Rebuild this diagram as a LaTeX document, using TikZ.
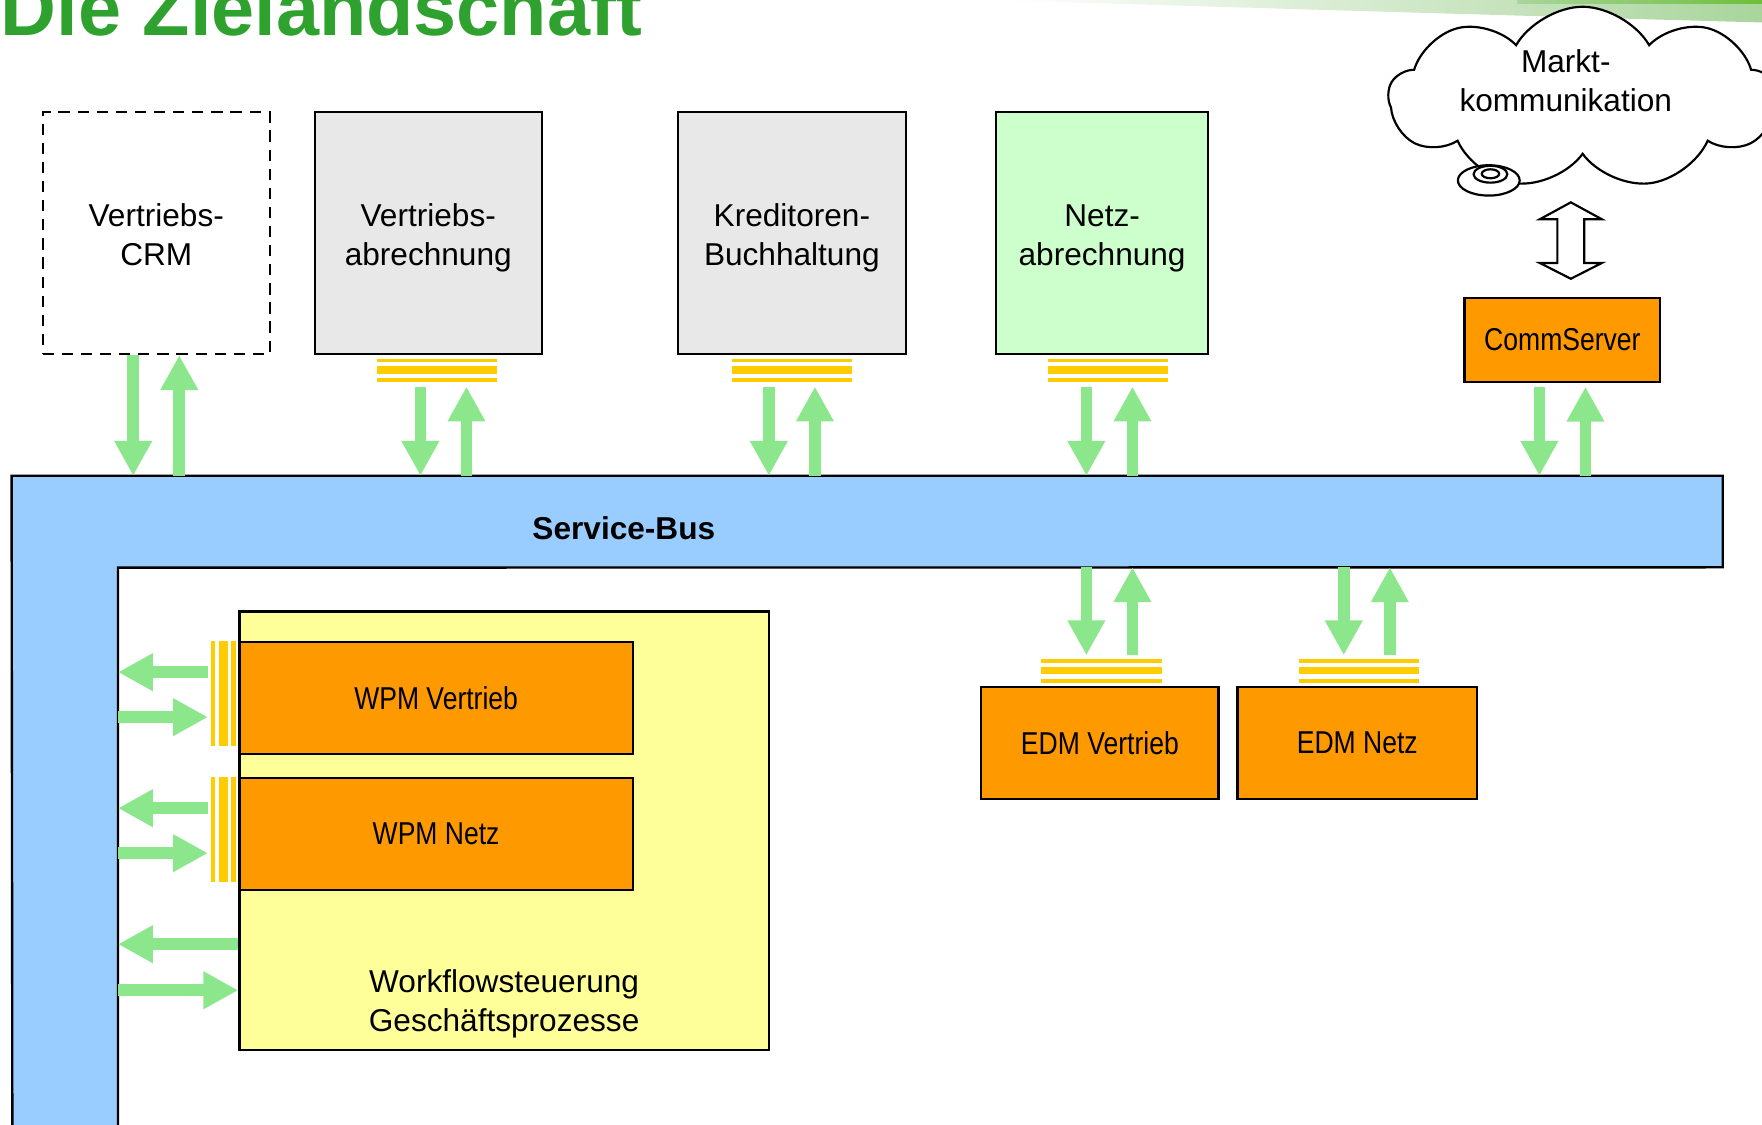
\documentclass[tikz,border=0pt]{standalone}
\usepackage{fontspec}
\setmainfont{Liberation Sans}
\newfontfamily\narrowsf[FakeStretch=0.84]{Liberation Sans}
\usepackage{tikz}
\usetikzlibrary{arrows.meta,calc,shapes.symbols,shapes.geometric}

\definecolor{boxgray}{HTML}{E8E8E8}
\definecolor{netzgreen}{HTML}{CCFFCC}
\definecolor{commorange}{HTML}{FF9900}
\definecolor{busblue}{HTML}{99CCFF}
\definecolor{wfyellow}{HTML}{FFFF99}
\definecolor{stripeyellow}{HTML}{FFCC00}
\definecolor{flowgreen}{HTML}{8CE68C}
\definecolor{titlegreen}{HTML}{2FA12F}
\definecolor{topgreen}{HTML}{A9D59C}
\definecolor{limegreen}{HTML}{6DBE3A}

\newcommand{\boxfont}{\fontsize{8}{10}\selectfont}

\tikzset{
  title/.style={anchor=base west, inner sep=0pt, text=titlegreen, font=\fontsize{19.6}{21}\selectfont\bfseries},
  sysbox/.style={draw, line width=0.55pt, inner sep=0pt, align=center, font=\boxfont, minimum height=21.5mm,
                 text height=17pt, text depth=0.5pt},
  orangebox/.style={draw, fill=commorange, line width=0.6pt, inner sep=0pt, font=\boxfont\narrowsf},
  flow/.style={draw=flowgreen, line width=1.03mm, -{Triangle[width=3.15mm, length=3.1mm]}},
  stripe/.style={fill=stripeyellow}
}

% Leisten (#1 = Knoten, #2 = Versatz in x)
\newcommand{\platebelow}[2]{%
  \fill[stripe] ($(#1.south)+(#2-53.5,3)$) rectangle ++(107,3.5);
  \fill[stripe] ($(#1.south)+(#2-53.5,10)$) rectangle ++(107,7);
  \fill[stripe] ($(#1.south)+(#2-53.5,20)$) rectangle ++(107,4);}
\newcommand{\plateabove}[2]{%
  \fill[stripe] ($(#1.north)+(#2-53.5,-24)$) rectangle ++(107,4);
  \fill[stripe] ($(#1.north)+(#2-53.5,-16.5)$) rectangle ++(107,6.5);
  \fill[stripe] ($(#1.north)+(#2-53.5,-6)$) rectangle ++(107,4);}
\newcommand{\plateleft}[1]{%
  \fill[stripe] ($(#1.north west)+(-24,0)$) rectangle ++(3.5,94);
  \fill[stripe] ($(#1.north west)+(-17,0)$) rectangle ++(8,94);
  \fill[stripe] ($(#1.north west)+(-6,0)$) rectangle ++(4,94);}

\begin{document}
\begin{tikzpicture}[x=0.1mm, y=-0.1mm]
  \useasboundingbox (0,0) rectangle (1567.6,1000);
  % Kopfzeile
  \shade[left color=white, right color=topgreen] (880,0) .. controls (1150,8) and (1350,14) .. (1568,20) -- (1568,0) -- cycle;
  \shade[left color=topgreen, right color=limegreen] (1350,0) rectangle (1568,3);
  \node[title] (titel) at (0,32) {Die Zielandschaft};

  % Service-Bus
  \node[minimum width=152.1mm, minimum height=8mm, inner sep=0pt] (bus) at (771.5,464) {};
  \coordinate (businner) at (105,505);
  \filldraw[fill=busblue, line width=0.6pt] (bus.north west) -- (bus.north east) -- (bus.south east)
     -- (businner) -- (105,1010) -- (11,1010) -- cycle;
  \node[font=\boxfont\bfseries] (buslabel) at (555,470) {Service-Bus};

  % Systeme oben
  \node[sysbox, dash pattern=on 1mm off 0.7mm, fill=white, minimum width=20.2mm] (crm) at (139,207.5) {Vertriebs-\\CRM};
  \node[sysbox, fill=boxgray, minimum width=20.2mm] (vab) at (381,207.5) {Vertriebs-\\abrechnung};
  \node[sysbox, fill=boxgray, minimum width=20.3mm] (kre) at (704.5,207.5) {Kreditoren-\\Buchhaltung};
  \node[sysbox, fill=netzgreen, minimum width=18.9mm] (netz) at (980.5,207.5) {Netz-\\abrechnung};
  \node[orangebox, minimum width=17.4mm, minimum height=7.5mm] (comm) at (1390,302.5) {CommServer};
  \platebelow{vab}{7.5}
  \platebelow{kre}{0}
  \platebelow{netz}{5}

  % Marktkommunikation
  \node[cloud, draw, fill=white, cloud puffs=9, cloud puff arc=120, aspect=2.1, line width=0.55pt,
        minimum width=34.5mm, minimum height=16.2mm, inner sep=0pt] (markt) at (1408,87) {};
  \node[align=center, font=\boxfont] (markttext) at (1393,72) {Markt-\\kommunikation};
  \node[ellipse, draw, fill=white, line width=0.55pt, minimum width=5.5mm, minimum height=2.7mm, inner sep=0pt] (blase) at (1324.5,160.5) {};
  \node[ellipse, draw, line width=0.55pt, minimum width=3mm, minimum height=1.5mm, inner sep=0pt] (ring) at (1326,155) {};
  \node[ellipse, draw, line width=0.55pt, minimum width=1.55mm, minimum height=0.8mm, inner sep=0pt] (kern) at (1326,154.6) {};
  \coordinate (link) at (1397.5,214);
  \draw[fill=white, line width=0.55pt] (link) ++(0,-34) -- ++(27.5,15) -- ++(-15.5,0) -- ++(0,39) -- ++(15.5,0)
     -- ++(-27.5,14) -- ++(-27.5,-14) -- ++(15.5,0) -- ++(0,-39) -- ++(-15.5,0) -- cycle;

  % Pfeile zum Bus
  \foreach \n/\dx/\gap in {crm/0/0, vab/13.5/28, kre/0/28, netz/6.5/28, comm/0/3} {
    \path ($(\n.south)+(\dx-20.5,\gap)$) coordinate (dn) ($(\n.south)+(\dx+20.5,\gap)$) coordinate (up);
    \draw[flow] (dn) -- (dn |- bus.north);
    \draw[flow] (up |- bus.north) -- (up);
  }

  % EDM
  \node[orangebox, minimum width=21.1mm, minimum height=10mm] (edmv) at (978.5,661) {EDM Vertrieb};
  \node[orangebox, minimum width=21.3mm, minimum height=10mm] (edmn) at (1207.5,661) {EDM Netz};
  \plateabove{edmv}{1.5}
  \plateabove{edmn}{1.5}
  \foreach \n in {edmv, edmn} {
    \path ($(\n.north)+(-12,-27)$) coordinate (dn) ($(\n.north)+(29,-27)$) coordinate (up);
    \draw[flow] (dn |- bus.south) -- (dn);
    \draw[flow] (up) -- (up |- bus.south);
  }

  % Workflow
  \node[draw, fill=wfyellow, line width=0.6pt, minimum width=47.1mm, minimum height=39mm] (wf) at (448.5,739) {};
  \node[align=center, font=\boxfont] (wftext) at ($(wf.south)+(0,-42)$) {Workflowsteuerung\\Geschäftsprozesse};
  \node[orangebox, minimum width=35mm, minimum height=10mm] (wpmv) at (388,621) {WPM Vertrieb};
  \node[orangebox, minimum width=35mm, minimum height=10mm] (wpmn) at (388,742) {WPM Netz};
  \plateleft{wpmv}
  \plateleft{wpmn}
  \foreach \n in {wpmv, wpmn} {
    \path ($(\n.west)+(-27,-23)$) coordinate (lt) ($(\n.west)+(-27,17)$) coordinate (rt);
    \draw[flow] (lt) -- (lt -| businner);
    \draw[flow] (rt -| businner) -- (rt);
  }
  \path ($(wf.west)+(0,101)$) coordinate (lt) ($(wf.west)+(0,142)$) coordinate (rt);
  \draw[flow] (lt) -- (lt -| businner);
  \draw[flow] (rt -| businner) -- (rt);
\end{tikzpicture}
\end{document}
